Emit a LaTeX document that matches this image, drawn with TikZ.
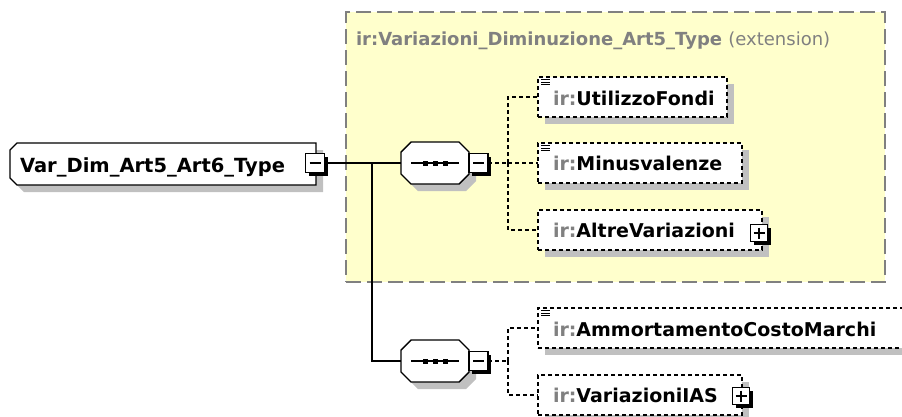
\documentclass[tikz,border=0pt]{standalone}
\usepackage{fontspec}
\setmainfont{DejaVu Sans}
\definecolor{yel}{RGB}{255,255,204}
\definecolor{shd}{RGB}{192,192,192}
\definecolor{grpline}{RGB}{128,128,128}
\definecolor{irgray}{RGB}{128,128,128}
\newcommand\octpath[1]{([xshift=10pt]#1.north west) -- ([xshift=-10pt]#1.north east) -- ([yshift=-10pt]#1.north east) -- ([yshift=10pt]#1.south east) -- ([xshift=-10pt]#1.south east) -- ([xshift=10pt]#1.south west) -- ([yshift=10pt]#1.south west) -- ([yshift=-10pt]#1.north west) -- cycle}
\newcommand\mainpath[1]{([xshift=7pt]#1.north west) -- (#1.north east) -- (#1.south east) -- ([xshift=7pt]#1.south west) -- ([yshift=7pt]#1.south west) -- ([yshift=-7pt]#1.north west) -- cycle}
\begin{document}
\begin{tikzpicture}[x=1pt,y=-1pt,
  every node/.style={inner sep=0pt, outer sep=0pt},
  lbl/.style={anchor=base west, font=\fontsize{19}{22}\selectfont\bfseries},
  ghost/.style={draw=none, fill=none, anchor=north west},
  elem/.style={draw=black, line width=1.4pt, dash pattern=on 4pt off 3pt, fill=white, anchor=north west, minimum height=40pt,
    preaction={draw=none, fill=shd, transform canvas={xshift=7pt, yshift=-7pt}}},
  tog/.style={draw=black, fill=white, line width=1.4pt, minimum size=19pt,
    preaction={draw=none, fill=black, transform canvas={xshift=3pt, yshift=-3pt}}},
  smalltog/.style={tog, minimum size=17pt},
  signline/.style={line width=1.4pt},
  solidcon/.style={draw=black, line width=1.4pt},
  dashcon/.style={draw=black, line width=1.4pt, dash pattern=on 4pt off 3pt},
  groupbox/.style={fill=yel, draw=grpline, line width=2pt, dash pattern=on 15pt off 6pt, anchor=north west}
]
\useasboundingbox (0,0) rectangle (902,416);
\clip (0,0) rectangle (902,416);

% extension group
\node[groupbox, minimum width=539pt, minimum height=270pt] (grp) at (346,12) {};
\node[lbl, text=irgray, font=\fontsize{18}{22}\selectfont\bfseries] (title) at (356,45) {ir:Variazioni\_Diminuzione\_Art5\_Type \textmd{(extension)}};

% main type node
\node[ghost, minimum width=306pt, minimum height=42pt] (main) at (10,143) {};
\fill[shd, transform canvas={xshift=7pt,yshift=-7pt}] \mainpath{main};
\draw[fill=white, line width=1.4pt] \mainpath{main};
\node[lbl, font=\fontsize{19.5}{22}\selectfont\bfseries] (maintxt) at (20,172) {Var\_Dim\_Art5\_Art6\_Type};
\node[tog] (mtog) at (315,163) {};
\draw[signline] ([xshift=4pt]mtog.west) -- ([xshift=-4pt]mtog.east);

% sequence 1
\node[ghost, minimum width=68pt, minimum height=42pt] (seq1) at (401,142) {};
\fill[shd, transform canvas={xshift=7pt,yshift=-7pt}] \octpath{seq1};
\draw[fill=white, line width=1.4pt] \octpath{seq1};
\draw[signline] ([xshift=10pt]seq1.west) -- ([xshift=-10pt]seq1.east);
\foreach \dx in {-10,0,10}
  \fill ([xshift=\dx pt-2.5pt, yshift=-2.5pt]seq1.center) rectangle ([xshift=\dx pt+2.5pt, yshift=2.5pt]seq1.center);
\node[tog] (s1tog) at (478.5,163) {};
\draw[signline] ([xshift=4pt]s1tog.west) -- ([xshift=-4pt]s1tog.east);

% sequence 2
\node[ghost, minimum width=68pt, minimum height=42pt] (seq2) at (401,340) {};
\fill[shd, transform canvas={xshift=7pt,yshift=-7pt}] \octpath{seq2};
\draw[fill=white, line width=1.4pt] \octpath{seq2};
\draw[signline] ([xshift=10pt]seq2.west) -- ([xshift=-10pt]seq2.east);
\foreach \dx in {-10,0,10}
  \fill ([xshift=\dx pt-2.5pt, yshift=-2.5pt]seq2.center) rectangle ([xshift=\dx pt+2.5pt, yshift=2.5pt]seq2.center);
\node[tog] (s2tog) at (478.5,361) {};
\draw[signline] ([xshift=4pt]s2tog.west) -- ([xshift=-4pt]s2tog.east);

% child elements of sequence 1
\node[elem, minimum width=189pt] (uf) at (538,77) {};
\node[lbl] (uft) at (553,105) {\textcolor{irgray}{ir:}UtilizzoFondi};
\node[elem, minimum width=204pt] (mv) at (538,143) {};
\node[lbl] (mvt) at (553,170) {\textcolor{irgray}{ir:}Minusvalenze};
\node[elem, minimum width=224pt] (av) at (538,210) {};
\node[lbl] (avt) at (553,237) {\textcolor{irgray}{ir:}AltreVariazioni};
\node[smalltog] (avtog) at (759,233) {};
\draw[signline] ([xshift=3pt]avtog.west) -- ([xshift=-3pt]avtog.east)
  ([yshift=-3pt]avtog.north) -- ([yshift=3pt]avtog.south);

% child elements of sequence 2
\node[elem, minimum width=380pt] (am) at (538,308) {};
\node[lbl] (amt) at (553,336) {\textcolor{irgray}{ir:}AmmortamentoCostoMarchi};
\node[elem, minimum width=204pt] (vi) at (538,375) {};
\node[lbl] (vit) at (553,402) {\textcolor{irgray}{ir:}VariazioniIAS};
\node[smalltog] (vitog) at (741,396) {};
\draw[signline] ([xshift=3pt]vitog.west) -- ([xshift=-3pt]vitog.east)
  ([yshift=-3pt]vitog.north) -- ([yshift=3pt]vitog.south);

% list icons
\foreach \n in {uf,mv,am}
  \foreach \dy in {2.5,5,7.5}
    \draw[line width=1pt] ([xshift=3pt, yshift=-\dy pt]\n.north west) -- ([xshift=12pt, yshift=-\dy pt]\n.north west);

% connectors
\coordinate (j1) at (372,163);
\draw[solidcon] (mtog.east) -- (seq1.west);
\draw[solidcon] (j1) |- (seq2.west);
\coordinate (d1) at (508,163);
\draw[dashcon] (s1tog.east) -- (d1);
\draw[dashcon] (d1) |- (uf.west);
\draw[dashcon] (d1) -- (mv.west);
\draw[dashcon] (d1) |- (av.west);
\coordinate (d2) at (508,361);
\draw[dashcon] (s2tog.east) -- (d2);
\draw[dashcon] (d2) |- (am.west);
\draw[dashcon] (d2) |- (vi.west);
\end{tikzpicture}
\end{document}
